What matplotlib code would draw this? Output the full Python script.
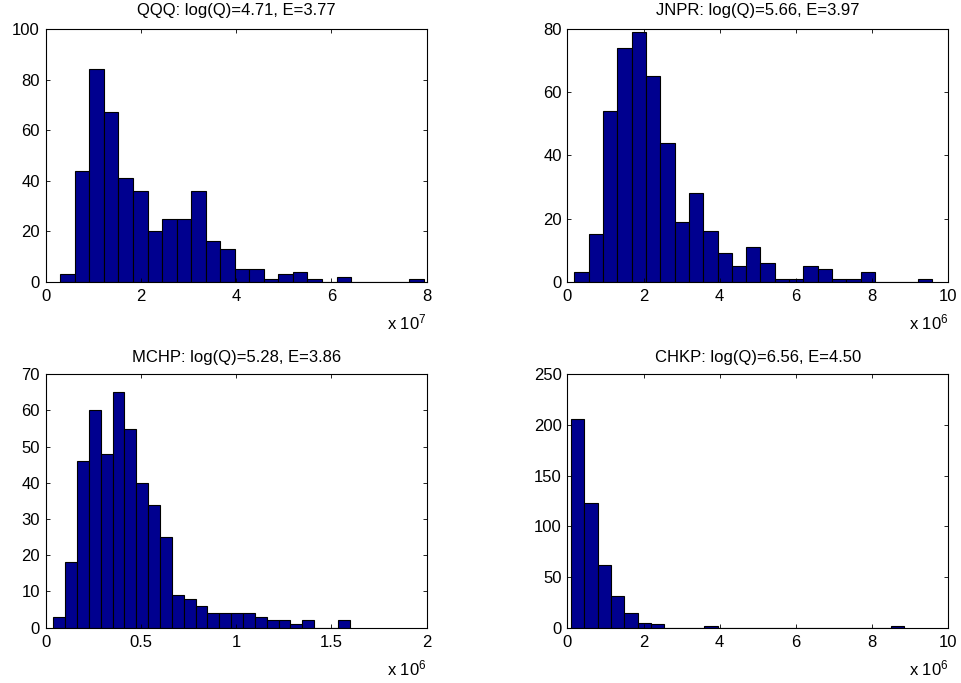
import numpy as np
import matplotlib
matplotlib.use("Agg")
import matplotlib.pyplot as plt

plt.rcParams['font.family'] = ['Liberation Sans', 'DejaVu Sans']
plt.rcParams['mathtext.fontset'] = 'custom'
plt.rcParams['mathtext.rm'] = 'Liberation Sans'
plt.rcParams['mathtext.it'] = 'Liberation Sans'

# Histogram data: 25 bins each, counts + data range (lo, hi) of the binning
qqq_counts = [3, 44, 84, 67, 41, 36, 20, 25, 25, 36, 16, 13, 5, 5, 1, 3, 4, 1, 0, 2, 0, 0, 0, 0, 1]
qqq_range = (0.31e7, 7.94e7)

jnpr_counts = [3, 15, 54, 74, 79, 65, 44, 19, 28, 16, 9, 5, 11, 6, 1, 1, 5, 4, 1, 1, 3, 0, 0, 0, 1]
jnpr_range = (0.184e6, 9.58e6)

mchp_counts = [3, 18, 46, 60, 48, 65, 55, 40, 34, 25, 9, 8, 6, 4, 4, 4, 4, 3, 2, 2, 1, 2, 0, 0, 2]
mchp_range = (0.041e6, 1.596e6)

chkp_counts = [206, 123, 62, 31, 14, 4, 3, 0, 0, 0, 1, 0, 0, 0, 0, 0, 0, 0, 0, 0, 0, 0, 0, 0, 1]
chkp_range = (0.097e6, 8.85e6)

titles = ["QQQ: log(Q)=4.71, E=3.77", "JNPR: log(Q)=5.66, E=3.97",
          "MCHP: log(Q)=5.28, E=3.86", "CHKP: log(Q)=6.56, E=4.50"]
xlims = [8e7, 10e6, 2e6, 10e6]
ylims = [100, 80, 70, 250]
yticks = [np.arange(0, 101, 20), np.arange(0, 81, 20), np.arange(0, 71, 10), np.arange(0, 251, 50)]
xticks = [[0, 2, 4, 6, 8], [0, 2, 4, 6, 8, 10], [0, 0.5, 1, 1.5, 2], [0, 2, 4, 6, 8, 10]]
xtick_labels = [["0", "2", "4", "6", "8"], ["0", "2", "4", "6", "8", "10"],
                ["0", "0.5", "1", "1.5", "2"], ["0", "2", "4", "6", "8", "10"]]
exponents = [7, 6, 6, 6]

W, H = 961, 683
fig = plt.figure(figsize=(W / 100, H / 100), dpi=100)

# axes boxes in pixels: left, top, right, bottom
boxes = [(45.5, 29, 426.7, 281.8), (567.3, 29, 948.3, 281.8),
         (45.5, 374.3, 426.7, 627.5), (567.3, 374.3, 948.3, 627.5)]
title_pads = [10, 10, 9, 9]

data = [(qqq_counts, qqq_range), (jnpr_counts, jnpr_range),
        (mchp_counts, mchp_range), (chkp_counts, chkp_range)]

for i, (counts, (lo, hi)) in enumerate(data):
    l, t, r, b = boxes[i]
    ax = fig.add_axes([l / W, 1 - b / H, (r - l) / W, (b - t) / H])
    edges = np.linspace(lo, hi, len(counts) + 1)
    ax.bar(edges[:-1], counts, width=np.diff(edges), align='edge',
           color='#00008F', edgecolor='black', linewidth=0.8)
    ax.set_xlim(0, xlims[i])
    ax.set_ylim(0, ylims[i])
    ax.set_yticks(yticks[i])
    scale = 10 ** exponents[i]
    ax.set_xticks(np.array(xticks[i]) * scale)
    ax.set_xticklabels(xtick_labels[i])
    ax.tick_params(direction='in', length=3, width=0.6, top=True, right=True,
                   labelsize=12)
    ax.tick_params(axis='x', pad=5.5)
    ax.tick_params(axis='y', pad=4)
    for s in ax.spines.values():
        s.set_linewidth(0.8)
    ax.set_title(titles[i], fontsize=12, pad=title_pads[i])
    ax.text(1.0, -48 / (b - t), r'x 10$^{%d}$' % exponents[i], transform=ax.transAxes,
            ha='right', va='baseline', fontsize=12)

fig.savefig("out.png", dpi=100)
